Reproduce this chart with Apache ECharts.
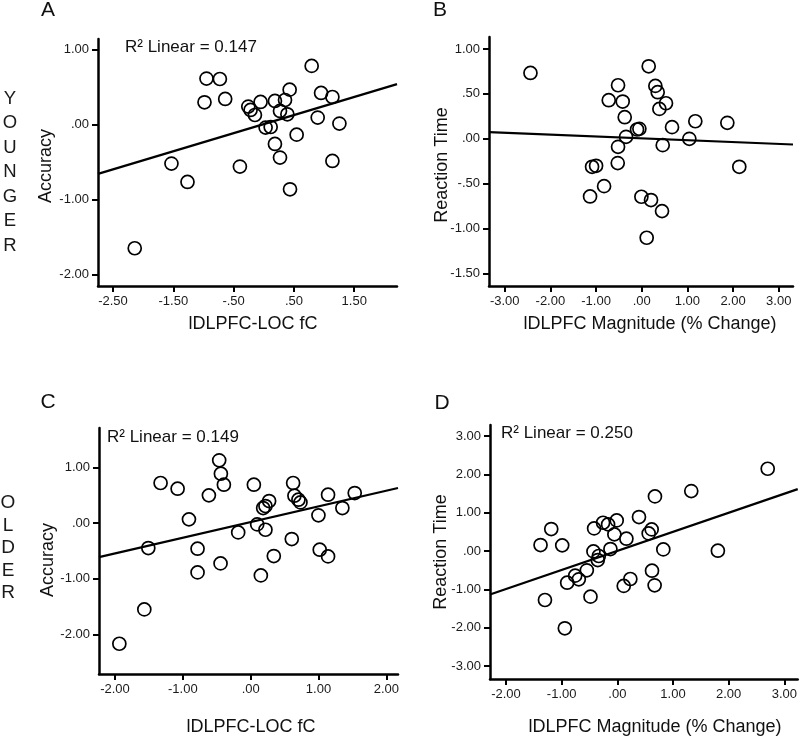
<!DOCTYPE html>
<html>
<head>
<meta charset="utf-8">
<script src="https://cdn.jsdelivr.net/npm/echarts@6/dist/echarts.min.js"></script>
<style>
html,body{margin:0;padding:0;background:#fff;}
#chart{width:800px;height:738px;}
</style>
</head>
<body>
<div id="chart"></div>
<script>
// ---------- Data ----------
// Panel A: Younger, lDLPFC-LOC fC vs Accuracy
const youngFcX  = [-2.140,-1.531,-1.265,-0.983,-0.950,-0.728,-0.640,-0.396,-0.257,-0.219,-0.147,-0.053,0.030,0.114,0.185,0.185,0.269,0.269,0.352,0.391,0.429,0.435,0.545,0.794,0.894,0.950,1.138,1.138,1.254];
const youngFcAcc = [-1.653,-0.524,-0.769,0.293,0.609,0.604,0.338,-0.564,0.236,0.191,0.124,0.298,-0.044,-0.036,0.311,-0.262,0.178,-0.444,0.324,0.133,0.462,-0.867,-0.138,0.778,0.089,0.418,0.364,-0.489,0.009];
// Panel B: Younger, lDLPFC magnitude vs Reaction Time
const youngMagX  = [-2.436,-1.131,-1.087,-0.999,-0.824,-0.722,-0.518,-0.518,-0.525,-0.416,-0.372,-0.343,-0.102,-0.051,-0.007,0.109,0.153,0.204,0.299,0.350,0.387,0.460,0.445,0.532,0.664,1.043,1.174,1.875,2.137];
const youngMagRT = [0.733,-0.641,-0.311,-0.300,-0.526,0.430,0.596,-0.089,-0.270,0.415,0.241,0.022,0.104,0.111,-0.644,-1.100,0.807,-0.681,0.589,0.519,0.333,-0.070,-0.804,0.396,0.130,0.000,0.196,0.178,-0.311];
// Panel C: Older, lDLPFC-LOC fC vs Accuracy
const olderFcX  = [-1.936,-1.568,-1.509,-1.328,-1.077,-0.910,-0.783,-0.783,-0.616,-0.464,-0.439,-0.395,-0.444,-0.184,0.047,0.096,0.150,0.184,0.218,0.218,0.272,0.341,0.606,0.626,0.645,0.704,0.734,0.999,1.018,1.141,1.141,1.352,1.534];
const olderFcAcc = [-2.168,-1.551,-0.449,0.719,0.617,0.066,-0.461,-0.886,0.497,1.126,0.886,0.689,-0.725,-0.168,0.689,-0.024,-0.940,0.269,0.305,-0.120,0.395,-0.593,-0.287,0.719,0.491,0.419,0.371,0.138,-0.479,0.509,-0.599,0.269,0.539];
// Panel D: Older, lDLPFC magnitude vs Reaction Time
const olderMagX  = [-1.379,-1.300,-1.187,-0.990,-0.943,-0.901,-0.757,-0.692,-0.548,-0.482,-0.429,-0.417,-0.333,-0.351,-0.256,-0.166,-0.124,-0.053,-0.011,0.115,0.163,0.234,0.389,0.563,0.617,0.623,0.676,0.670,0.826,1.328,1.806,2.701];
const olderMagRT = [0.157,-1.278,0.574,0.148,-2.017,-0.826,-0.643,-0.739,-0.504,-1.191,-0.009,0.591,-0.130,-0.235,0.739,0.696,0.052,0.435,0.800,-0.910,0.322,-0.730,0.887,0.461,0.565,-0.513,1.426,-0.896,0.043,1.565,0.009,2.148];

// Linear fit lines (end points)
const fitA = [[-2.749,-0.661],[2.209,0.536]];
const fitB = [[-3.344,0.074],[3.313,-0.063]];
const fitC = [[-2.236,-0.611],[2.172,0.629]];
const fitD = [[-2.287,-1.136],[3.240,1.617]];

// Axis extents
const rangeAX = [-2.749, 2.209], rangeAY = [-2.156, 1.137];
const rangeBX = [-3.344, 3.313], rangeBY = [-1.637, 1.133];
const rangeCX = [-2.236, 2.172], rangeCY = [-2.711, 1.707];
const rangeDX = [-2.287, 3.240], rangeDY = [-3.34, 3.29];

// Tick values
const ticksAX = [-2.5,-1.5,-0.5,0.5,1.5];
const ticksAY = [-2,-1,0,1];
const ticksBX = [-3,-2,-1,0,1,2,3];
const ticksBY = [-1.5,-1,-0.5,0,0.5,1];
const ticksCX = [-2,-1,0,1,2];
const ticksCY = [-2,-1,0,1];
const ticksDX = [-2,-1,0,1,2,3];
const ticksDY = [-3,-2,-1,0,1,2,3];

// Texts
const panelLetters = ['A','B','C','D'];
const r2Texts = ['R\u00B2 Linear = 0.147', null, 'R\u00B2 Linear = 0.149', 'R\u00B2 Linear = 0.250'];
const xNames = ['lDLPFC-LOC fC','lDLPFC Magnitude (% Change)','lDLPFC-LOC fC','lDLPFC Magnitude (% Change)'];
const yNames = ['Accuracy','Reaction Time','Accuracy','Reaction Time'];
const rowLabels = ['YOUNGER','OLDER'];

// ---------- Chart ----------
const FONT = '"Liberation Sans", Arial, sans-serif';
const fmt = v => {
  let s = Number(v).toFixed(2);
  s = s.replace(/^0\./, '.').replace(/^-0\./, '-.');
  return s;
};

const grids = [
  {left: 98,  top: 39,  width: 299, height: 247},
  {left: 489, top: 37,  width: 304, height: 249},
  {left: 99,  top: 428, width: 299, height: 246},
  {left: 490, top: 425, width: 308, height: 254}
];
const xr = [rangeAX, rangeBX, rangeCX, rangeDX];
const yr = [rangeAY, rangeBY, rangeCY, rangeDY];
const xt = [ticksAX, ticksBX, ticksCX, ticksDX];
const yt = [ticksAY, ticksBY, ticksCY, ticksDY];
const xs = [youngFcX, youngMagX, olderFcX, olderMagX];
const ys = [youngFcAcc, youngMagRT, olderFcAcc, olderMagRT];
const fits = [fitA, fitB, fitC, fitD];

function axisCommon(ticks){
  return {
    type: 'value',
    axisLine: {show: true, onZero: false, lineStyle: {color: '#000', width: 2.5}},
    axisTick: {show: true, length: 6, lineStyle: {color: '#000', width: 2}, customValues: ticks},
    axisLabel: {show: true, customValues: ticks, formatter: fmt, color: '#1a1a1a',
                fontFamily: FONT, fontSize: 13, margin: 9},
    splitLine: {show: false}
  };
}

const xAxis = grids.map((g, i) => Object.assign(axisCommon(xt[i]), {
  gridIndex: i, min: xr[i][0], max: xr[i][1]
}));
const yAxis = grids.map((g, i) => Object.assign(axisCommon(yt[i]), {
  gridIndex: i, min: yr[i][0], max: yr[i][1]
}));

const series = [];
for (let i = 0; i < 4; i++) {
  series.push({
    type: 'scatter', xAxisIndex: i, yAxisIndex: i,
    data: xs[i].map((x, k) => [x, ys[i][k]]),
    symbol: 'circle', symbolSize: 13,
    itemStyle: {color: 'rgba(255,255,255,0)', borderColor: '#000', borderWidth: 1.7, opacity: 1},
    emphasis: {disabled: true}, z: 2, silent: true
  });
  series.push({
    type: 'line', xAxisIndex: i, yAxisIndex: i,
    data: fits[i], showSymbol: false, symbol: 'none',
    lineStyle: {color: '#000', width: 2.2}, z: 3, silent: true, animation: false
  });
}

const graphic = [];
const txt = (text, x, y, size, opts) => Object.assign({
  type: 'text', x: x, y: y, silent: true,
  style: Object.assign({text: text, font: size + 'px ' + FONT, fill: '#111',
    align: 'center', verticalAlign: 'middle'}, (opts && opts.style) || {})
}, (opts && opts.el) || {});

// panel letters
const letterPos = [[48,10],[440,10],[48,402],[442,403]];
panelLetters.forEach((l, i) => graphic.push(txt(l, letterPos[i][0], letterPos[i][1], 21)));

// R2 texts
const r2Pos = [[125,47],null,[107,437],[501,433]];
r2Texts.forEach((t, i) => { if (t) graphic.push(txt(t, r2Pos[i][0], r2Pos[i][1], 17, {style:{align:'left'}})); });

// axis names
const xNamePos = [[253,324],[650,324],[251,727],[655,727]];
xNames.forEach((t, i) => graphic.push(txt(t, xNamePos[i][0], xNamePos[i][1], 18)));
const yNamePos = [[46,166],[442,165],[48,560],[441,552]];
yNames.forEach((t, i) => graphic.push(txt(t, yNamePos[i][0], yNamePos[i][1], 18, {el:{rotation: Math.PI/2}})));

// row labels stacked letters
rowLabels[0].split('').forEach((c, k) => graphic.push(txt(c, 10, 98.5 + k*24.5, 18.5, {style:{fill:'#1a1a1a'}})));
rowLabels[1].split('').forEach((c, k) => graphic.push(txt(c, 8, 503 + k*22.5, 19, {style:{fill:'#1a1a1a'}})));

const chart = echarts.init(document.getElementById('chart'), null, {renderer: 'canvas'});
chart.setOption({
  animation: false,
  backgroundColor: '#fff',
  grid: grids,
  xAxis: xAxis,
  yAxis: yAxis,
  series: series,
  graphic: graphic
});
</script>
</body>
</html>
